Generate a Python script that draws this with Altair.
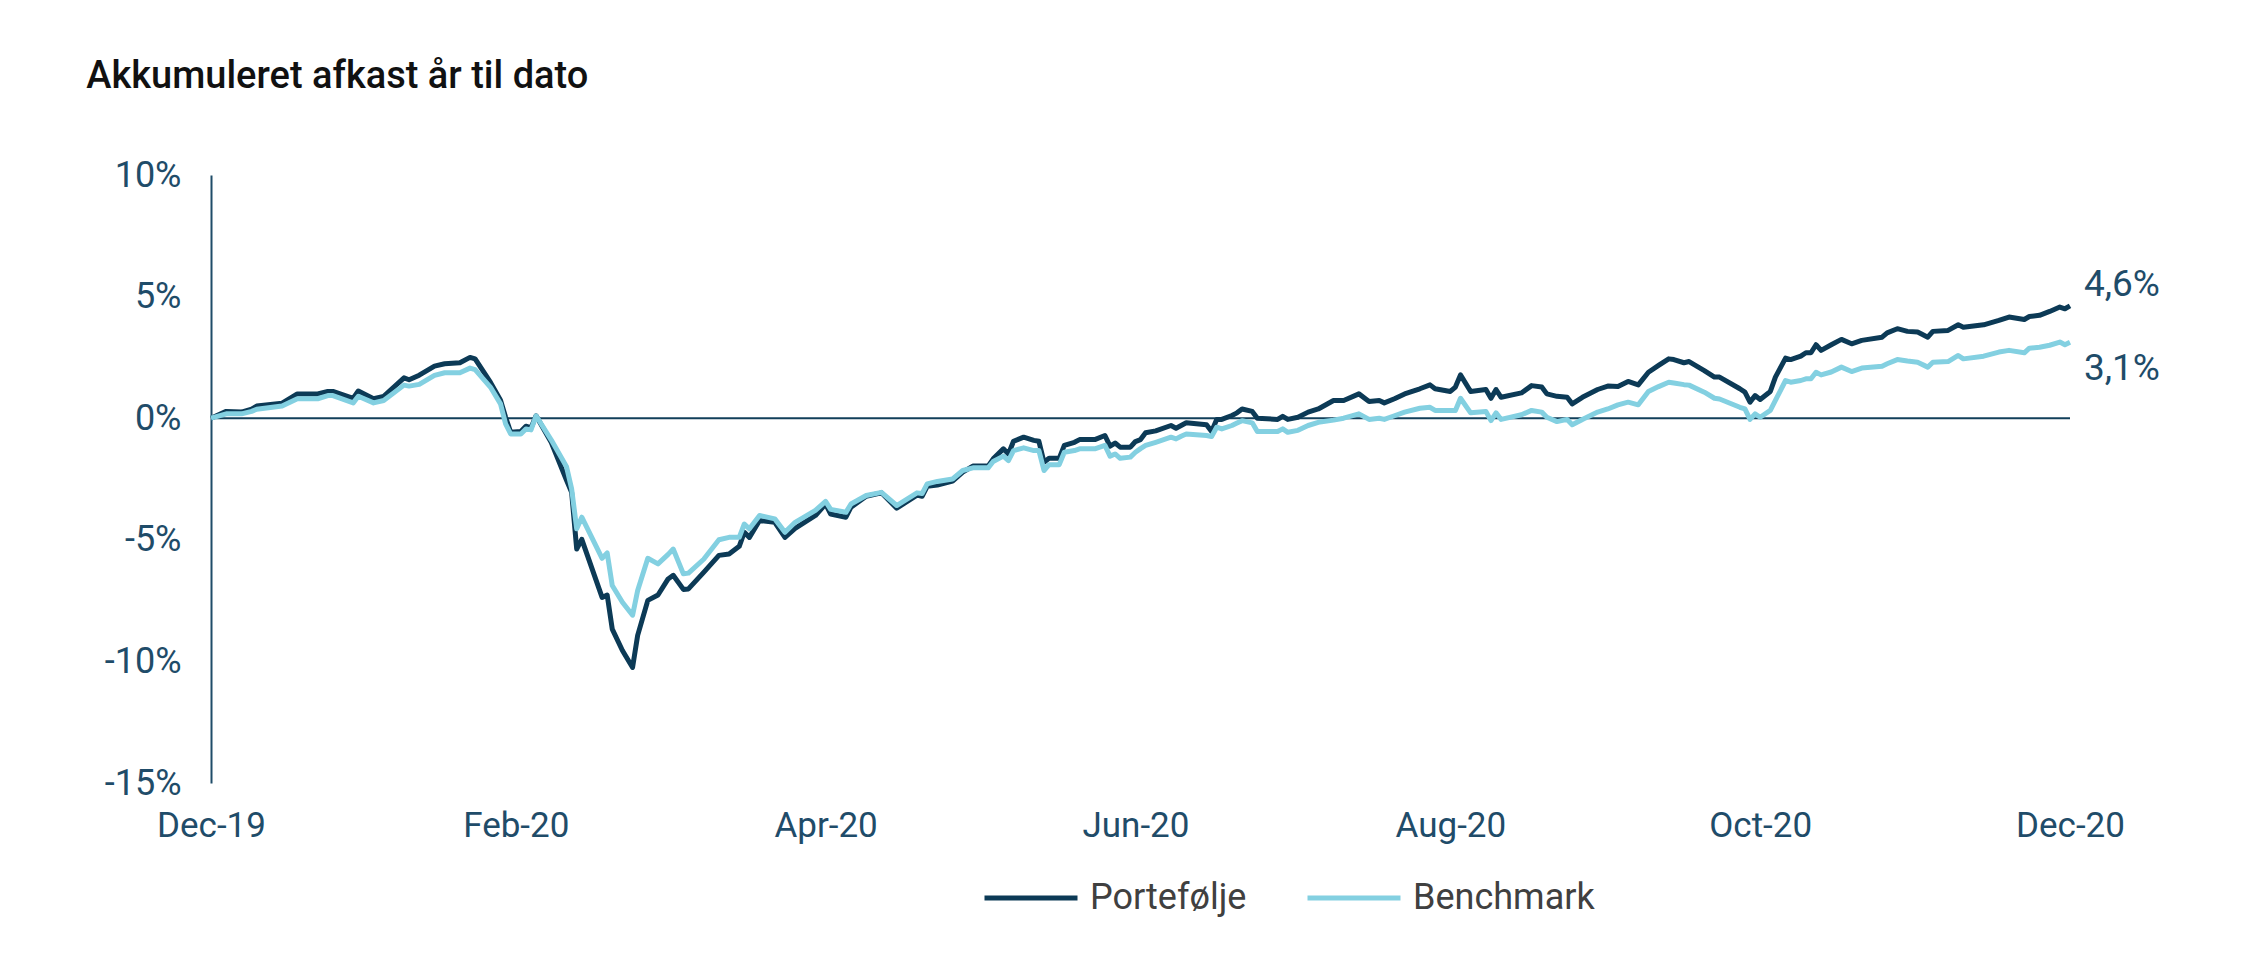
import altair as alt
import pandas as pd

# ---- data (day offset from 31 Dec 2019, cumulative return in %) ----
day = [0, 3, 6, 8, 9, 14, 17, 21, 23, 24, 28, 29, 32, 34, 38, 39, 41, 44, 46, 49, 51, 52, 55, 57, 58, 59, 61, 62, 63, 64, 67,
       70, 71, 72, 73, 77, 78, 79, 81, 83, 84, 86, 88, 90, 91, 93, 94, 97, 100, 102, 104, 105, 106, 108, 111, 113, 115, 119,
       121, 122, 125, 126, 129, 132, 135, 139, 140, 141, 143,
       146, 148, 150, 153, 154, 156, 157, 158, 160, 162, 163, 164, 165, 167, 168, 170, 171, 174, 176, 177, 178, 179, 181, 182,
       183, 184, 186, 189, 190, 191, 192, 196, 197, 198, 199, 201, 202, 203, 205, 206, 210, 211, 212, 214, 216, 218,
       221, 223, 226, 228, 230, 231, 233, 235, 238, 240, 241, 244, 245, 246, 248, 251, 252, 253, 254, 258, 260, 262, 263, 265,
       267, 268, 270, 273, 275, 277, 279, 281, 283, 285, 287, 288, 290, 291,
       294, 296, 297, 301, 302, 303, 304, 305, 307, 308, 310, 311, 313, 314, 315, 316, 317, 319, 321, 323, 325, 329, 330, 332,
       334, 336, 338, 339, 342, 344, 345, 349, 352, 354, 357, 358, 360, 362, 364, 365, 366]

portefolje = [0, 0.28, 0.25, 0.37, 0.5, 0.62, 1.0, 1.0, 1.1, 1.1, 0.82, 1.12, 0.8, 0.9, 1.66, 1.58, 1.77, 2.14, 2.24, 2.28,
              2.5, 2.44, 1.48, 0.74, 0.04, -0.58, -0.55, -0.33, -0.4, 0.1, -1.0,
              -2.55, -3.05, -5.38, -4.98, -7.37, -7.27, -8.67, -9.55, -10.25, -8.93, -7.49, -7.27, -6.61, -6.46, -7.04,
              -7.02, -6.34, -5.64, -5.58, -5.27, -4.69, -4.9, -4.2, -4.28, -4.9, -4.53, -4.0, -3.53, -3.94, -4.07, -3.66,
              -3.21, -3.07, -3.7, -3.16, -3.21, -2.8, -2.75,
              -2.59, -2.22, -1.97, -1.97, -1.67, -1.26, -1.47, -0.95, -0.78, -0.91, -0.95, -1.81, -1.65, -1.65, -1.12,
              -0.99, -0.88, -0.88, -0.71, -1.15, -1.02, -1.19, -1.19, -0.96, -0.88, -0.6, -0.52, -0.3, -0.41, -0.3, -0.19,
              -0.27, -0.55, -0.05, -0.05, 0.11, 0.22, 0.38, 0.28, 0.0, -0.05, 0.08, -0.05, 0.04, 0.25, 0.38,
              0.73, 0.73, 1.0, 0.69, 0.73, 0.63, 0.8, 1.0, 1.21, 1.37, 1.21, 1.1, 1.28, 1.78, 1.1, 1.18, 0.82, 1.18, 0.86,
              1.04, 1.34, 1.28, 1.0, 0.9, 0.86, 0.59, 0.86, 1.18, 1.32, 1.3, 1.51, 1.37, 1.89, 2.17, 2.44, 2.41, 2.28, 2.33,
              1.96, 1.69, 1.69, 1.21, 1.07, 0.66, 0.93, 0.77, 1.1, 1.69, 2.47, 2.41, 2.55, 2.69, 2.69, 3.02, 2.79, 3.02,
              3.24, 3.06, 3.2, 3.33, 3.51, 3.68, 3.57, 3.54, 3.33, 3.57, 3.61, 3.84, 3.74, 3.84, 4.02, 4.16, 4.06, 4.18,
              4.23, 4.39, 4.57, 4.5, 4.62]

benchmark = [0, 0.18, 0.18, 0.28, 0.37, 0.5, 0.8, 0.8, 0.93, 0.93, 0.63, 0.9, 0.63, 0.73, 1.36, 1.32, 1.39, 1.76, 1.87, 1.87,
             2.06, 2.0, 1.28, 0.59, -0.23, -0.65, -0.65, -0.44, -0.48, 0.1, -0.9,
             -2.0, -2.9, -4.55, -4.07, -5.76, -5.54, -6.88, -7.57, -8.1, -7.08, -5.76, -5.99, -5.6, -5.38, -6.4,
             -6.37, -5.8, -5.0, -4.9, -4.9, -4.35, -4.55, -4.0, -4.14, -4.69, -4.28, -3.79, -3.42, -3.75, -3.87, -3.53,
             -3.18, -3.05, -3.59, -3.07, -3.1, -2.7, -2.6,
             -2.5, -2.15, -2.04, -2.04, -1.78, -1.56, -1.74, -1.33, -1.22, -1.33, -1.33, -2.15, -1.91, -1.91, -1.4,
             -1.33, -1.26, -1.26, -1.12, -1.56, -1.47, -1.65, -1.6, -1.4, -1.25, -1.12, -0.99, -0.78, -0.85, -0.74, -0.65,
             -0.71, -0.75, -0.37, -0.44, -0.3, -0.2, -0.1, -0.19, -0.55, -0.55, -0.44, -0.58, -0.5, -0.3, -0.17,
             -0.08, 0.0, 0.18, -0.05, 0.0, -0.05, 0.1, 0.25, 0.41, 0.45, 0.32, 0.32, 0.32, 0.82, 0.22, 0.28, -0.1, 0.22,
             -0.05, 0.14, 0.32, 0.25, 0.04, -0.14, -0.05, -0.27, -0.05, 0.25, 0.38, 0.55, 0.66, 0.55, 1.1, 1.3, 1.48, 1.45,
             1.38, 1.36,
             1.07, 0.82, 0.79, 0.45, 0.38, -0.05, 0.18, 0.04, 0.32, 0.73, 1.55, 1.48, 1.55, 1.62, 1.62, 1.89, 1.78, 1.9,
             2.1, 1.92, 2.06, 2.14, 2.24, 2.41, 2.35, 2.3, 2.1, 2.3, 2.33, 2.58, 2.44, 2.55, 2.72, 2.79, 2.69, 2.88,
             2.92, 3.0, 3.13, 3.02, 3.12]

series_names = ["Portefølje", "Benchmark"]
series_colors = ["#0c3a56", "#83d0e1"]
x_tick_dates = [(2019, 12, 31), (2020, 2, 29), (2020, 4, 30), (2020, 6, 30), (2020, 8, 31), (2020, 10, 31), (2020, 12, 31)]
y_ticks = [-15, -10, -5, 0, 5, 10]
title_text = "Akkumuleret afkast år til dato"

# ---- build tables ----
start = pd.Timestamp("2019-12-31")
dates = [(start + pd.Timedelta(days=d)).strftime("%Y-%m-%dT00:00:00") for d in day]
n = len(day)
df = pd.DataFrame({
    "date": dates + dates,
    "value": portefolje + benchmark,
    "series": [series_names[0]] * n + [series_names[1]] * n,
})
end_df = pd.DataFrame({
    "date": [dates[-1], dates[-1]],
    "value": [portefolje[-1], benchmark[-1]],
    "series": series_names,
    "label": [f"{v:.1f}%".replace(".", ",") for v in (portefolje[-1], benchmark[-1])],
})

FONT = "Roboto, sans-serif"
AXIS_COL = "#1f4c69"

x_dt = [alt.DateTime(year=y, month=m, date=d) for (y, m, d) in x_tick_dates]

x_enc = alt.X(
    "date:T",
    scale=alt.Scale(domain=[x_dt[0], x_dt[-1]]),
    axis=alt.Axis(values=x_dt, format="%b-%y", title=None, grid=False, ticks=False, domain=False,
                  labelFlush=False, labelOverlap=False, labelPadding=25, labelFontSize=35,
                  labelColor=AXIS_COL, labelFont=FONT),
)
y_enc = alt.Y(
    "value:Q",
    scale=alt.Scale(domain=[-15, 10], nice=False, zero=False),
    axis=alt.Axis(values=y_ticks, labelExpr="datum.value + '%'", title=None, grid=False, ticks=False,
                  domainColor=AXIS_COL, domainWidth=2, labelPadding=30, labelFontSize=36,
                  labelColor=AXIS_COL, labelFont=FONT),
)
color_enc = alt.Color(
    "series:N",
    scale=alt.Scale(domain=series_names, range=series_colors),
    legend=alt.Legend(title=None, orient="none", direction="horizontal", legendX=771, legendY=674,
                      symbolType="stroke", symbolSize=8649, symbolStrokeWidth=5, labelFontSize=36,
                      labelFont=FONT, labelColor="#404040", labelOffset=10, columnPadding=50, padding=0,
                      labelLimit=0),
)

base = alt.Chart(df)

zero_rule = alt.Chart(pd.DataFrame({"zero": [0]})).mark_rule(color="#123f5a", strokeWidth=2).encode(
    y=alt.Y("zero:Q", scale=alt.Scale(domain=[-15, 10], nice=False))
)

line_p = base.transform_filter(alt.datum.series == series_names[0]).mark_line(
    strokeWidth=5, strokeJoin="round").encode(x=x_enc, y=y_enc, color=color_enc)
line_b = base.transform_filter(alt.datum.series == series_names[1]).mark_line(
    strokeWidth=5, strokeJoin="round").encode(x=x_enc, y=y_enc, color=color_enc)

end_base = alt.Chart(end_df)
lab_p = end_base.transform_filter(alt.datum.series == series_names[0]).mark_text(
    align="left", baseline="middle", dx=14, dy=-21, fontSize=37, font=FONT, color=AXIS_COL
).encode(x="date:T", y="value:Q", text="label:N")
lab_b = end_base.transform_filter(alt.datum.series == series_names[1]).mark_text(
    align="left", baseline="middle", dx=14, dy=27, fontSize=37, font=FONT, color=AXIS_COL
).encode(x="date:T", y="value:Q", text="label:N")

chart = alt.layer(zero_rule, line_p, line_b, lab_p, lab_b).properties(
    width=1859,
    height=608,
    autosize=alt.AutoSizeParams(type="none"),
    padding={"left": 203, "top": 167, "right": 170, "bottom": 170},
    title=alt.TitleParams(text=title_text, anchor="start", dx=-18, offset=31, baseline="alphabetic",
                          font=FONT, fontSize=38, fontWeight=500, color="#111111"),
    background="white",
).configure_view(stroke=None)

chart.save("out.html", embed_options={"renderer": "svg", "actions": False})
